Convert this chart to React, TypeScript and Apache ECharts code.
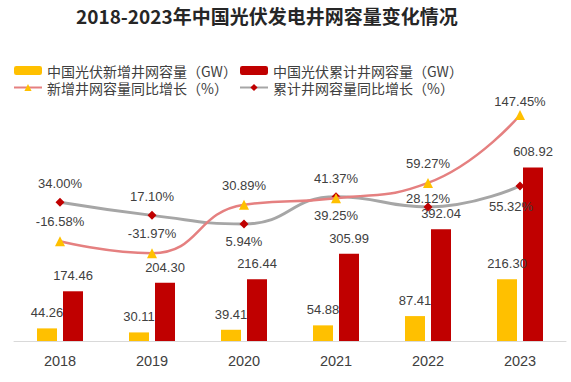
import React, { useEffect, useRef } from "react";
import * as echarts from "echarts";

const years = ["2018", "2019", "2020", "2021", "2022", "2023"];
const newCapacity = [44.26, 30.11, 39.41, 54.88, 87.41, 216.3];
const totalCapacity = [174.46, 204.3, 216.44, 305.99, 392.04, 608.92];
const newGrowth = [-16.58, -31.97, 30.89, 39.25, 59.27, 147.45];
const totalGrowth = [34.0, 17.1, 5.94, 41.37, 28.12, 55.32];

const newGrowthLabelPos = ["top", "top", "top", "bottom", "top", "top"];
const newGrowthLabelDist = [8, 8, 8, 6, 8, 2];
const totalGrowthLabelPos = ["top", "top", "bottom", "top", "top", "bottom"];
const totalGrowthLabelDist = [8, 8, 7, 7, -3, 10];
const totalGrowthLabelDx = [0, 0, 0, 0, 0, -9];

const NAMES = [
  "中国光伏新增井网容量（GW）",
  "中国光伏累计井网容量（GW）",
  "新增井网容量同比增长（%）",
  "累计井网容量同比增长（%）",
];

const labelFont = {
  fontFamily: "'Liberation Sans', Arial, sans-serif",
  fontSize: 13,
  color: "#404040",
};

export default function App() {
  const ref = useRef<HTMLDivElement>(null);
  useEffect(() => {
    if (!ref.current) return;
    const chart = echarts.init(ref.current, null, { renderer: "svg" });
    const legendText = {
      fontFamily: "'Noto Sans CJK SC', sans-serif",
      fontSize: 14,
      color: "#404040",
      lineHeight: 17,
    };
    chart.setOption({
      animation: false,
      backgroundColor: "#ffffff",
      title: {
        text: "2018-2023年中国光伏发电井网容量变化情况",
        left: 76,
        top: 6,
        padding: 0,
        textStyle: {
          fontFamily: "'Noto Sans CJK SC', sans-serif",
          fontSize: 19,
          fontWeight: "bold",
          color: "#262626",
        },
      },
      legend: [
        {
          orient: "vertical",
          left: 13,
          top: 62,
          padding: 0,
          itemGap: 0,
          itemWidth: 28,
          itemHeight: 9,
          data: [NAMES[0], NAMES[2]],
          textStyle: legendText,
        },
        {
          orient: "vertical",
          left: 239,
          top: 62,
          padding: 0,
          itemGap: 0,
          itemWidth: 28,
          itemHeight: 9,
          data: [NAMES[1], NAMES[3]],
          textStyle: legendText,
        },
      ],
      grid: { left: 14, right: 5, top: 56, bottom: 41 },
      xAxis: {
        type: "category",
        data: years,
        axisLine: { lineStyle: { color: "#d9d9d9", width: 1 } },
        axisTick: { show: false },
        axisLabel: {
          margin: 12,
          fontFamily: "'Liberation Sans', Arial, sans-serif",
          fontSize: 14.5,
          color: "#404040",
        },
      },
      yAxis: [
        { type: "value", min: 0, max: 1000, show: false, splitLine: { show: false } },
        { type: "value", min: -146, max: 224, show: false, splitLine: { show: false } },
      ],
      series: [
        {
          name: NAMES[0],
          type: "bar",
          yAxisIndex: 0,
          data: newCapacity,
          barWidth: 20,
          barGap: "30%",
          itemStyle: { color: "#FFC000" },
          label: {
            show: true,
            position: "top",
            distance: 9,
            formatter: (p: any) => p.value.toFixed(2),
            ...labelFont,
          },
        },
        {
          name: NAMES[1],
          type: "bar",
          yAxisIndex: 0,
          data: totalCapacity,
          barWidth: 20,
          itemStyle: { color: "#C00000" },
          label: {
            show: true,
            position: "top",
            distance: 9,
            formatter: (p: any) => p.value.toFixed(2),
            ...labelFont,
          },
        },
        {
          name: NAMES[2],
          type: "line",
          yAxisIndex: 1,
          smooth: true,
          z: 5,
          symbol: "triangle",
          symbolSize: 10,
          lineStyle: { color: "#E58080", width: 2.5 },
          itemStyle: { color: "#FFC000" },
          data: newGrowth.map((v, i) => ({
            value: v,
            label: {
              show: true,
              position: newGrowthLabelPos[i],
              distance: newGrowthLabelDist[i],
              formatter: v.toFixed(2) + "%",
              ...labelFont,
            },
          })),
        },
        {
          name: NAMES[3],
          type: "line",
          yAxisIndex: 1,
          smooth: true,
          z: 4,
          symbol: "diamond",
          symbolSize: 9,
          lineStyle: { color: "#A6A6A6", width: 3 },
          itemStyle: { color: "#C00000" },
          data: totalGrowth.map((v, i) => ({
            value: v,
            label: {
              show: true,
              position: totalGrowthLabelPos[i],
              distance: totalGrowthLabelDist[i],
              offset: [totalGrowthLabelDx[i], 0],
              formatter: v.toFixed(2) + "%",
              ...labelFont,
            },
          })),
        },
      ],
    });
    return () => chart.dispose();
  }, []);
  return (
    <div
      ref={ref}
      style={{ position: "fixed", left: 0, top: 0, width: 571, height: 382 }}
    />
  );
}
